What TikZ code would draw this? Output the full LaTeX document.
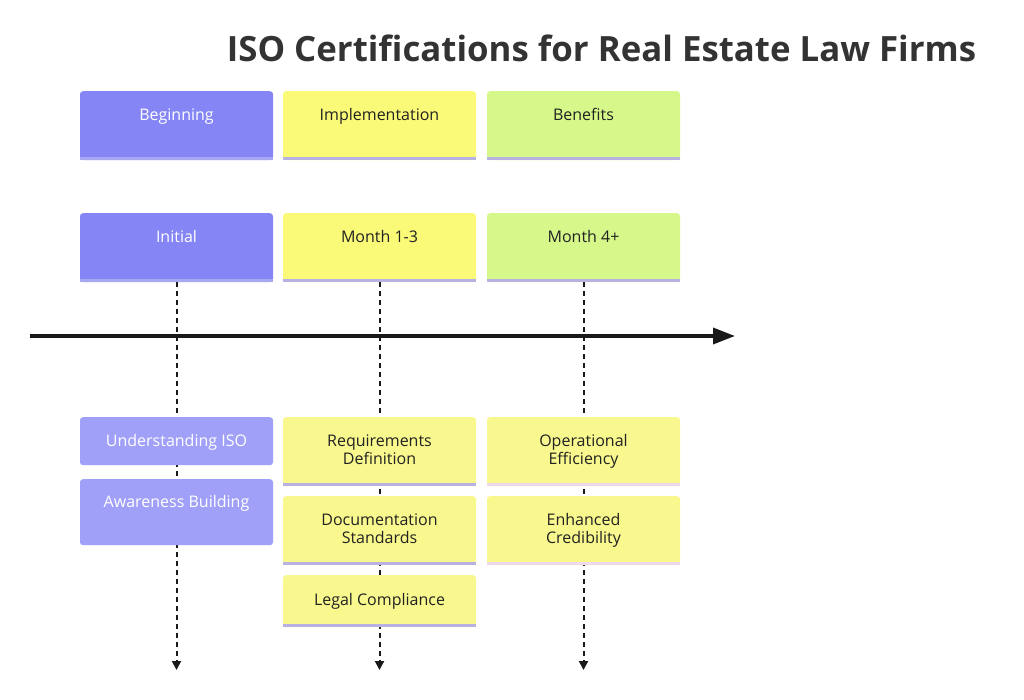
\documentclass[tikz,border=0pt]{standalone}
\usepackage{fontspec}
\setmainfont{Open Sans}
\usetikzlibrary{arrows.meta,positioning}
\definecolor{cpur}{HTML}{8585F6}
\definecolor{cpurL}{HTML}{A0A0F8}
\definecolor{cpurD}{HTML}{A8A8F2}
\definecolor{cyel}{HTML}{FAFA78}
\definecolor{cyelL}{HTML}{F8F88E}
\definecolor{cgrn}{HTML}{D6F88A}
\definecolor{clav}{HTML}{B8B2E2}
\definecolor{cpink}{HTML}{F0D8EC}
\definecolor{cink}{HTML}{222222}
\definecolor{ctitle}{HTML}{333333}
\tikzset{
  tbox/.style={rounded corners=3pt, align=center, inner sep=0pt, anchor=north,
               minimum width=193pt, text height=29pt, text depth=40pt,
               font=\fontsize{16}{18}\selectfont},
  two/.style={text height=47pt, text depth=22pt},
  npur/.style={tbox, fill=cpur, text=white},
  nyel/.style={tbox, fill=cyel, text=cink},
  ngrn/.style={tbox, fill=cgrn, text=cink},
  epur/.style={tbox, fill=cpurL, text=white},
  eyel/.style={tbox, fill=cyelL, text=cink},
  ttl/.style={font=\fontsize{34.8}{40}\selectfont\bfseries, text=ctitle, inner sep=0pt},
  tline/.style={-{Triangle[length=22pt,width=16pt]}, line width=3.5pt, black!90},
  vline/.style={-{Triangle[length=9pt,width=9pt]}, line width=2pt, black!90,
                dash pattern=on 5pt off 4pt},
  bline/.style={line width=3pt},
}
\begin{document}
\begin{tikzpicture}[x=1pt, y=-1pt]
  \useasboundingbox (0,0) rectangle (1024,700);
  \node[ttl, anchor=base] (title) at (601.5,62) {ISO Certifications for Real Estate Law Firms};
  % sections
  \node[npur] (s1) at (176.5,91) {Beginning};
  \node[nyel] (s2) at (379.5,91) {Implementation};
  \node[ngrn] (s3) at (583.5,91) {Benefits};
  % periods
  \node[npur] (p1) at (176.5,213) {Initial};
  \node[nyel] (p2) at (379.5,213) {Month 1-3};
  \node[ngrn] (p3) at (583.5,213) {Month 4+};
  % time axis
  \coordinate (tl) at (30,336);
  \coordinate (tr) at (735,336);
  \foreach \i/\x in {1/176.5,2/379.5,3/583.5} \coordinate (z\i) at (\x,670);
  \foreach \i in {1,2,3} \draw[vline] (p\i.south) -- (z\i);
  \draw[tline] (tl) -- (tr);
  % events
  \node[epur, text depth=19pt] (e11) at (176.5,417) {Understanding ISO};
  \node[epur, text height=28pt, text depth=38pt] (e12) at (176.5,479) {Awareness Building};
  \node[eyel, two] (e21) at (379.5,417) {Requirements\\Definition};
  \node[eyel, two] (e22) at (379.5,496) {Documentation\\Standards};
  \node[eyel, text height=30pt, text depth=22pt] (e23) at (379.5,575) {Legal Compliance};
  \node[eyel, two] (e31) at (583.5,417) {Operational\\Efficiency};
  \node[eyel, two] (e32) at (583.5,496) {Enhanced\\Credibility};
  % bottom edges
  \foreach \n/\c in {s1/cpurD,s2/clav,s3/clav,p1/cpurD,p2/clav,p3/clav,e21/clav,e22/clav,e23/clav,e31/cpink,e32/cpink}
    \draw[bline, \c] ([yshift=1.5pt]\n.south west) -- ([yshift=1.5pt]\n.south east);
\end{tikzpicture}
\end{document}
